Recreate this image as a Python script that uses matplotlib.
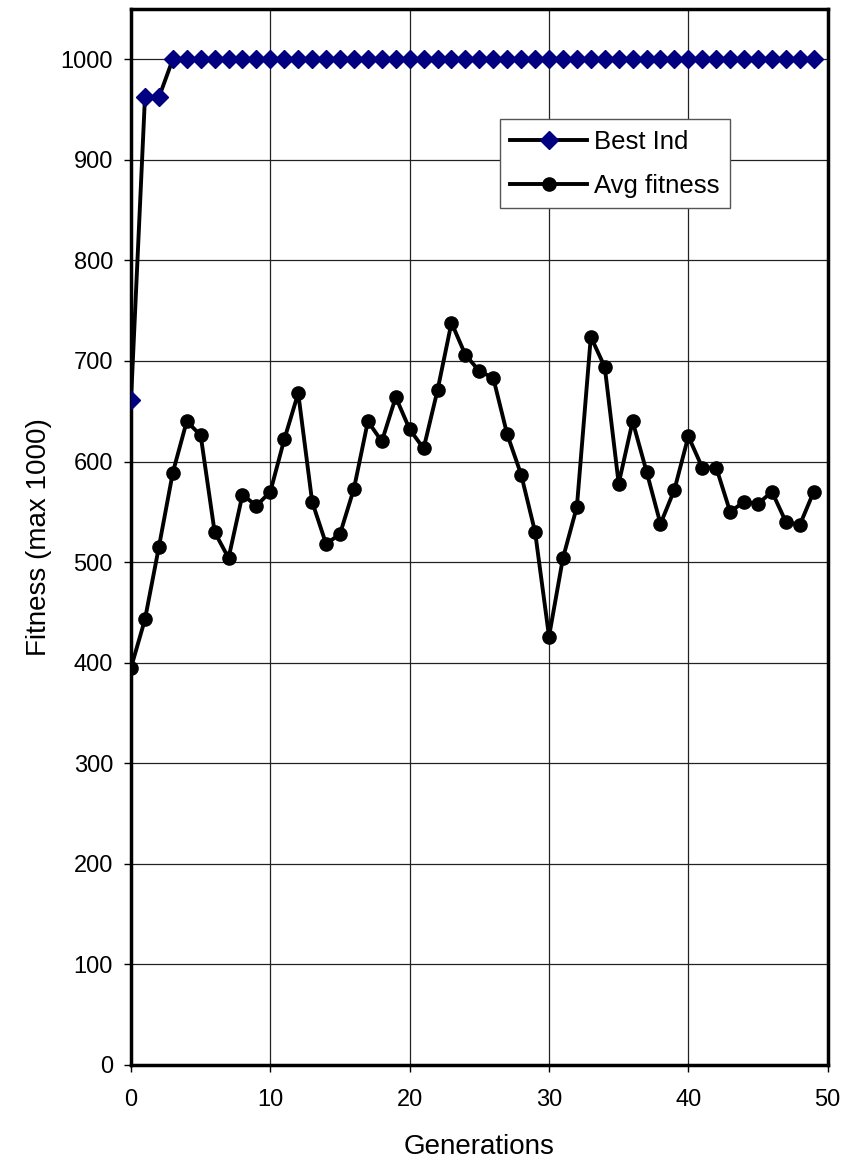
import matplotlib
matplotlib.use("Agg")
import matplotlib.pyplot as plt

plt.rcParams['font.family'] = ['Liberation Sans', 'DejaVu Sans']

generations = list(range(50))
best_ind = [661, 962, 962] + [1000] * 47
avg_fitness = [395, 443, 515, 589, 640, 626, 530, 504, 567, 556,
               570, 622, 668, 560, 518, 528, 573, 640, 620, 664,
               632, 613, 671, 738, 706, 690, 683, 627, 587, 530,
               426, 504, 555, 724, 694, 578, 640, 590, 538, 572,
               625, 594, 594, 550, 560, 558, 570, 540, 537, 570]
x_ticks = [0, 10, 20, 30, 40, 50]
y_ticks = [0, 100, 200, 300, 400, 500, 600, 700, 800, 900, 1000]

fig = plt.figure(figsize=(8.42, 11.63), dpi=100)
ax = fig.add_axes([0.1556, 0.0843, 0.983 - 0.1556, 0.9923 - 0.0843])

ax.plot(generations, best_ind, color='black', lw=2.8, marker='D', ms=9.5,
        mfc='#000080', mec='#000080', label='Best Ind', zorder=3)
ax.plot(generations, avg_fitness, color='black', lw=2.8, marker='o', ms=9.5,
        mfc='black', mec='black', label='Avg fitness', zorder=3)

ax.set_xlim(0, 50)
ax.set_ylim(0, 1050)
ax.set_xticks(x_ticks)
ax.set_yticks(y_ticks)
ax.grid(True, color='#222222', lw=0.9)
ax.set_axisbelow(True)
for s in ax.spines.values():
    s.set_linewidth(2.5)
    s.set_color('black')
ax.tick_params(axis='both', direction='out', length=5, width=1, labelsize=17)
ax.tick_params(axis='x', pad=12)
ax.tick_params(axis='y', pad=8)
ax.set_xlabel('Generations', fontsize=20, labelpad=17)
ax.set_ylabel('Fitness (max 1000)', fontsize=20, labelpad=6)

leg = ax.legend(loc='upper left', bbox_to_anchor=(0.529, 0.896), fontsize=18.5,
                frameon=True, fancybox=False, edgecolor='#555555', framealpha=1,
                handlelength=3.0, borderpad=0.42, labelspacing=0.78, handletextpad=0.25,
                borderaxespad=0)
leg.get_frame().set_linewidth(1)

fig.savefig('out.png', dpi=100)
